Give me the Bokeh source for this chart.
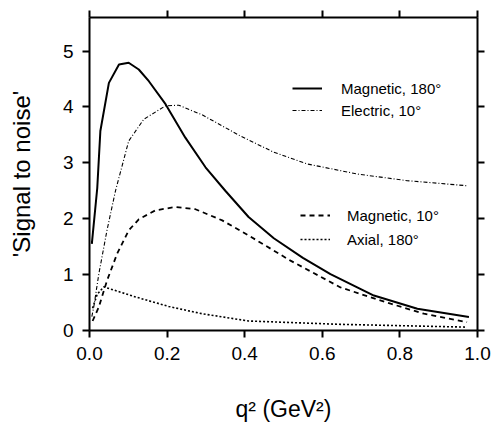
from bokeh.plotting import figure
from bokeh.models import (LinearAxis, FixedTicker, Legend, LegendItem, Range1d)
from bokeh.embed import file_html
from bokeh.resources import INLINE

# ---- data ----
mag180_q = [0.006, 0.02, 0.028, 0.05, 0.076, 0.101, 0.127, 0.153, 0.196, 0.247,
            0.299, 0.35, 0.41, 0.475, 0.55, 0.621, 0.733, 0.845, 0.978]
mag180_s = [1.55, 2.55, 3.57, 4.43, 4.76, 4.79, 4.67, 4.46, 4.05, 3.45,
            2.92, 2.50, 2.03, 1.65, 1.30, 1.01, 0.625, 0.39, 0.24]

ele10_q = [0.006, 0.011, 0.024, 0.045, 0.067, 0.101, 0.14, 0.196, 0.23, 0.29,
           0.35, 0.389, 0.475, 0.561, 0.69, 0.819, 0.973]
ele10_s = [0.25, 0.42, 1.01, 1.79, 2.50, 3.39, 3.78, 4.02, 4.03, 3.86,
           3.63, 3.48, 3.19, 2.98, 2.80, 2.68, 2.59]

mag10_q = [0.008, 0.024, 0.045, 0.071, 0.101, 0.127, 0.17, 0.222, 0.273, 0.342,
           0.41, 0.518, 0.647, 0.776, 0.862, 0.973]
mag10_s = [0.17, 0.42, 0.89, 1.37, 1.79, 1.99, 2.15, 2.21, 2.17, 1.97,
           1.70, 1.25, 0.77, 0.48, 0.30, 0.15]

ax180_q = [0.008, 0.02, 0.037, 0.119, 0.204, 0.29, 0.41, 0.647, 0.973]
ax180_s = [0.40, 0.65, 0.78, 0.60, 0.43, 0.30, 0.17, 0.11, 0.06]

x_ticks = [0.0, 0.2, 0.4, 0.6, 0.8, 1.0]
y_ticks = [0, 1, 2, 3, 4, 5]

FONT = "Liberation Sans"

p = figure(width=497, height=427, output_backend="svg", toolbar_location=None,
           x_range=Range1d(0, 1.0), y_range=Range1d(0, 5.6),
           min_border_left=89, min_border_right=20, min_border_top=17,
           min_border_bottom=97)
p.grid.visible = False
p.outline_line_color = None
p.background_fill_color = "white"
p.border_fill_color = "white"


def style(ax):
    ax.axis_line_width = 2
    ax.axis_line_color = "black"
    ax.major_tick_line_width = 2
    ax.major_tick_line_color = "black"
    ax.major_tick_out = 7
    ax.major_tick_in = 0
    ax.minor_tick_line_color = None
    ax.major_label_text_font = FONT
    ax.major_label_text_font_size = "19px"
    ax.major_label_text_color = "black"
    ax.major_label_standoff = 9


xa = p.xaxis[0]
ya = p.yaxis[0]
xa.ticker = FixedTicker(ticks=x_ticks)
ya.ticker = FixedTicker(ticks=y_ticks)
xa.major_label_overrides = {0.0: "0.0", 1.0: "1.0"}
style(xa)
style(ya)
xa.axis_label = "q² (GeV²)"
ya.axis_label = "'Signal to noise'"
for ax in (xa, ya):
    ax.axis_label_text_font = FONT
    ax.axis_label_text_font_size = "23px"
    ax.axis_label_text_font_style = "normal"
    ax.axis_label_text_color = "black"
xa.axis_label_standoff = 33
ya.axis_label_standoff = 25
ya.axis_label_text_font_size = "24px"

top = LinearAxis(ticker=FixedTicker(ticks=x_ticks))
style(top)
top.major_label_overrides = {t: "" for t in x_ticks}
top.major_label_standoff = 0
p.add_layout(top, "above")
right = LinearAxis(ticker=FixedTicker(ticks=y_ticks))
style(right)
right.major_label_overrides = {t: "" for t in y_ticks}
right.major_label_standoff = 0
p.add_layout(right, "right")

r1 = p.line(mag180_q, mag180_s, line_color="black", line_width=2)
r2 = p.line(ele10_q, ele10_s, line_color="black", line_width=1.1,
            line_dash="4 2 1 2")
r3 = p.line(mag10_q, mag10_s, line_color="black", line_width=1.8,
            line_dash="5 4")
r4 = p.line(ax180_q, ax180_s, line_color="black", line_width=1.6,
            line_dash="2 2")


def make_legend(items, loc, row_h, standoff):
    lg = Legend(items=items, location=loc, orientation="vertical",
                padding=0, margin=0, spacing=0,
                border_line_color=None, background_fill_alpha=0,
                glyph_width=30, glyph_height=row_h, label_height=row_h,
                label_standoff=standoff,
                label_text_font=FONT, label_text_font_size="15px",
                label_text_color="black")
    return lg


leg1 = make_legend([LegendItem(label="Magnetic, 180°", renderers=[r1]),
                    LegendItem(label="Electric, 10°", renderers=[r2])],
                   (203, 209), 22, 19)
leg2 = make_legend([LegendItem(label="Magnetic, 10°", renderers=[r3]),
                    LegendItem(label="Axial, 180°", renderers=[r4])],
                   (211, 79), 24, 17)
p.add_layout(leg1, "center")
p.add_layout(leg2, "center")

open("out.html", "w").write(file_html(p, INLINE))
